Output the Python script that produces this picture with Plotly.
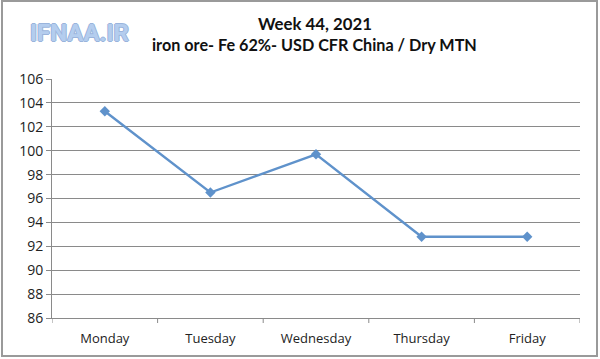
import plotly.graph_objects as go

days = ["Monday", "Tuesday", "Wednesday", "Thursday", "Friday"]
prices = [103.3, 96.5, 99.7, 92.8, 92.8]
y_ticks = [86, 88, 90, 92, 94, 96, 98, 100, 102, 104, 106]

W, H = 600, 359
L, R, T, B = 52, 20, 79, 41
pw, ph = W - L - R, H - T - B

fig = go.Figure()
fig.add_trace(go.Scatter(
    x=list(range(len(days))), y=prices, mode="lines+markers",
    line=dict(color="#5f92cb", width=2.4),
    marker=dict(symbol="diamond", size=8, color="#5f92cb"),
    showlegend=False,
))

fig.update_layout(
    width=W, height=H,
    margin=dict(l=L, r=R, t=T, b=B, autoexpand=False),
    paper_bgcolor="white", plot_bgcolor="white",
    font=dict(family="Open Sans, Liberation Sans, sans-serif", size=13, color="#222"),
    xaxis=dict(
        range=[-0.5, len(days) - 0.5], automargin=False,
        tickvals=list(range(len(days))), ticktext=days,
        showgrid=False, zeroline=False,
        showline=True, linecolor="#8a8a8a", linewidth=1,
        ticks="", ticklabelstandoff=8,
        tickfont=dict(size=13, color="#222"),
    ),
    yaxis=dict(
        range=[86, 106], tickvals=y_ticks, automargin=False,
        showgrid=True, gridcolor="#8a8a8a", gridwidth=1,
        zeroline=False, showline=True, linecolor="#8a8a8a", linewidth=1,
        ticks="outside", ticklen=5, tickcolor="#8a8a8a",
        tickfont=dict(size=14, color="#222"),
    ),
)

# Category separator ticks on x axis (Excel style between categories)
for i in range(len(days) + 1):
    fig.add_shape(type="line", xref="x", yref="paper",
                  x0=i - 0.5, x1=i - 0.5, y0=0, y1=-5 / ph,
                  line=dict(color="#8a8a8a", width=1))

# Outer border
fig.add_shape(type="rect", xref="paper", yref="paper",
              x0=(-L + 2) / pw, x1=(pw + R - 3) / pw,
              y0=(-B + 3) / ph, y1=(ph + T - 1) / ph,
              line=dict(color="#9a9a9a", width=2), fillcolor="rgba(0,0,0,0)", layer="below")

fig.add_annotation(xref="paper", yref="paper",
                   x=(315 - L) / pw, y=(H - 23 - B) / ph,
                   text="<b>Week 44, 2021</b>", showarrow=False,
                   font=dict(size=16.8, color="#111", family="Lato, Open Sans, sans-serif"),
                   xanchor="center", yanchor="middle")
fig.add_annotation(xref="paper", yref="paper",
                   x=(314.5 - L) / pw, y=(H - 45 - B) / ph,
                   text="<b>iron ore- Fe 62%- USD CFR China / Dry MTN</b>", showarrow=False,
                   font=dict(size=16.2, color="#111", family="Lato, Open Sans, sans-serif"),
                   xanchor="center", yanchor="middle")
fig.add_annotation(xref="paper", yref="paper",
                   x=(79 - L) / pw, y=(H - 33 - B) / ph,
                   text="<b>IFNAA.IR</b>", showarrow=False,
                   font=dict(size=24, color="#b4cdee", family="Roboto, sans-serif",
                             shadow="-1px 0 #9ab4dc, 1px 0 #9ab4dc, 0 -1px #9ab4dc, 0 1px #9ab4dc"),
                   xanchor="center", yanchor="middle")

fig.write_html("out.html", config={"displayModeBar": False},
               post_script="document.body.style.margin='0';")
